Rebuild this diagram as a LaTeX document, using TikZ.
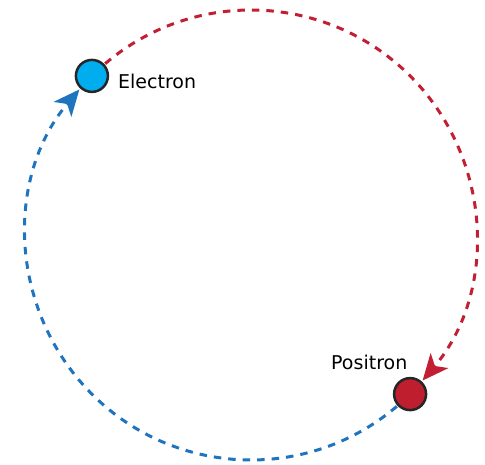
\documentclass[tikz,border=0pt]{standalone}
\usepackage{fontspec}
\setmainfont{DejaVu Sans}
\usetikzlibrary{arrows.meta,calc}
\definecolor{eblue}{HTML}{00AEEF}
\definecolor{lblue}{HTML}{1F74BF}
\definecolor{pred}{HTML}{BE1E2D}
\definecolor{lred}{HTML}{C21F32}
\begin{document}
\begin{tikzpicture}[x=1pt,y=1pt,
  particle/.style={circle, draw=black!85, line width=2.5pt, minimum size=32pt, inner sep=0pt},
  orbit/.style={line width=3pt, dash pattern=on 7.5pt off 7pt},
  orbittip/.style={-{Stealth[length=26pt,width=23pt,inset=7pt]}},
  lbl/.style={font=\fontsize{19}{23}\selectfont, inner sep=0pt}]
\useasboundingbox (0,0) rectangle (485,464);
\coordinate (O) at (251,229);
\draw[orbit, lred, orbittip] (O) ++(130.4:225pt) arc[start angle=130.4, end angle=-40.3, radius=225pt];
\draw[orbit, lblue, orbittip] (O) ++(-49.6:225pt) arc[start angle=-49.6, end angle=-220.3, radius=225pt];
\node[particle, fill=eblue] (electron) at ($(O)+(135:225pt)$) {};
\node[particle, fill=pred] (positron) at ($(O)+(-45:225pt)$) {};
\node[lbl, anchor=base west] (elabel) at (118,375) {Electron};
\node[lbl, anchor=base west] (plabel) at (331,95) {Positron};
\end{tikzpicture}
\end{document}
